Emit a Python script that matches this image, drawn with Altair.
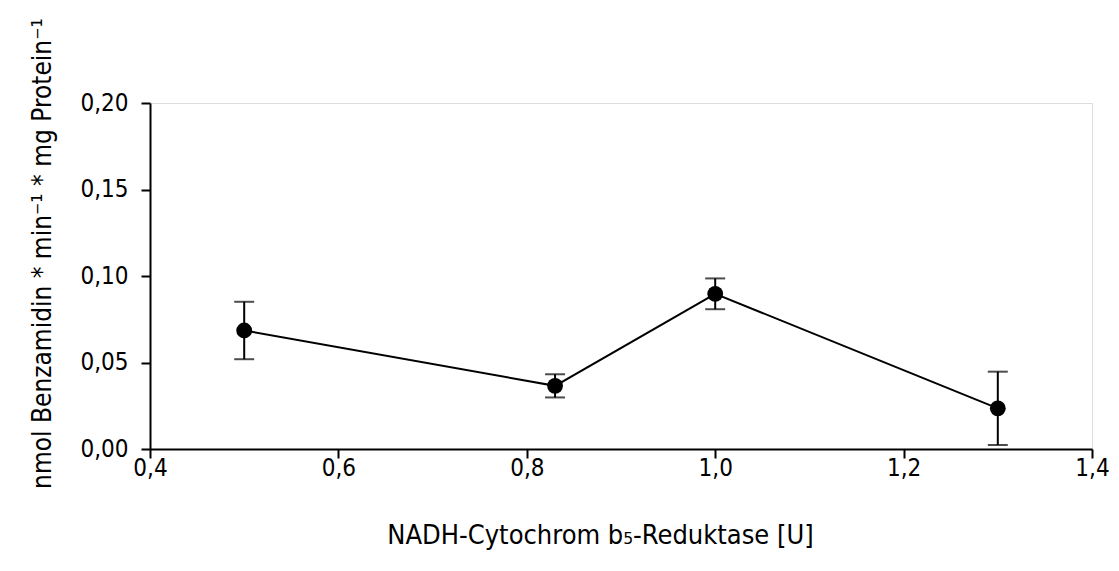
import altair as alt
import pandas as pd

# Data
reductase_u = [0.5, 0.83, 1.0, 1.3]
activity = [0.0685, 0.0365, 0.0897, 0.0235]
error = [0.0166, 0.0067, 0.0089, 0.0212]

x_ticks = [0.4, 0.6, 0.8, 1.0, 1.2, 1.4]
y_ticks = [0.0, 0.05, 0.10, 0.15, 0.20]

x_title = "NADH-Cytochrom b\u2085-Reduktase [U]"
y_title = "nmol Benzamidin * min\u207b\u00b9 * mg Protein\u207b\u00b9"

df = pd.DataFrame({"x": reductase_u, "y": activity, "err": error})
df["lo"] = df["y"] - df["err"]
df["hi"] = df["y"] + df["err"]

FONT = "DejaVu Sans Condensed, DejaVu Sans"

xs = alt.Scale(domain=[0.4, 1.4], nice=False, zero=False)
ys = alt.Scale(domain=[0.0, 0.2], nice=False)

x_axis = alt.Axis(
    values=x_ticks, title=x_title, grid=False, labelFlush=False,
    labelExpr="replace(format(datum.value, '.1f'), '.', ',')",
    tickSize=9, tickWidth=2, tickColor="black",
    domainColor="black", domainWidth=2,
    labelFont=FONT, labelFontSize=24, labelColor="black",
    labelBaseline="alphabetic", labelPadding=17,
    titleFont=FONT, titleFontSize=27, titleFontWeight="normal", titleColor="black",
    titleBaseline="alphabetic", titleAnchor="middle", titleAlign="center",
    titleX=450, titleY=94,
)
y_axis = alt.Axis(
    values=y_ticks, title=y_title, grid=False, labelFlush=False,
    labelExpr="replace(format(datum.value, '.2f'), '.', ',')",
    tickSize=9, tickWidth=2, tickColor="black",
    domainColor="black", domainWidth=2,
    labelFont=FONT, labelFontSize=24, labelColor="black",
    labelPadding=13,
    titleFont=FONT, titleFontSize=26, titleFontWeight="normal", titleColor="black",
    titleBaseline="alphabetic", titleAlign="center", titleAngle=270,
    titleX=-100, titleY=150,
)

base = alt.Chart(df)

line = base.mark_line(color="black", strokeWidth=2).encode(
    x=alt.X("x:Q", scale=xs, axis=x_axis),
    y=alt.Y("y:Q", scale=ys, axis=y_axis),
)
bars = base.mark_rule(color="black", strokeWidth=2).encode(
    x=alt.X("x:Q", scale=xs),
    y=alt.Y("lo:Q", scale=ys),
    y2="hi:Q",
)
cap_lo = base.mark_tick(color="black", orient="horizontal", size=20, thickness=2).encode(
    x=alt.X("x:Q", scale=xs),
    y=alt.Y("lo:Q", scale=ys),
)
cap_hi = base.mark_tick(color="black", orient="horizontal", size=20, thickness=2).encode(
    x=alt.X("x:Q", scale=xs),
    y=alt.Y("hi:Q", scale=ys),
)
pts = base.mark_circle(color="black", opacity=1, size=250).encode(
    x=alt.X("x:Q", scale=xs),
    y=alt.Y("y:Q", scale=ys),
)

chart = alt.layer(line, bars, cap_lo, cap_hi, pts).properties(
    width=942, height=346,
    autosize=alt.AutoSizeParams(type="none"),
    padding={"left": 142, "top": 95, "right": 19, "bottom": 110},
).configure_view(strokeOpacity=0, strokeWidth=0).configure(background="white")

chart.save("out.html", embed_options={"renderer": "svg", "actions": False})
